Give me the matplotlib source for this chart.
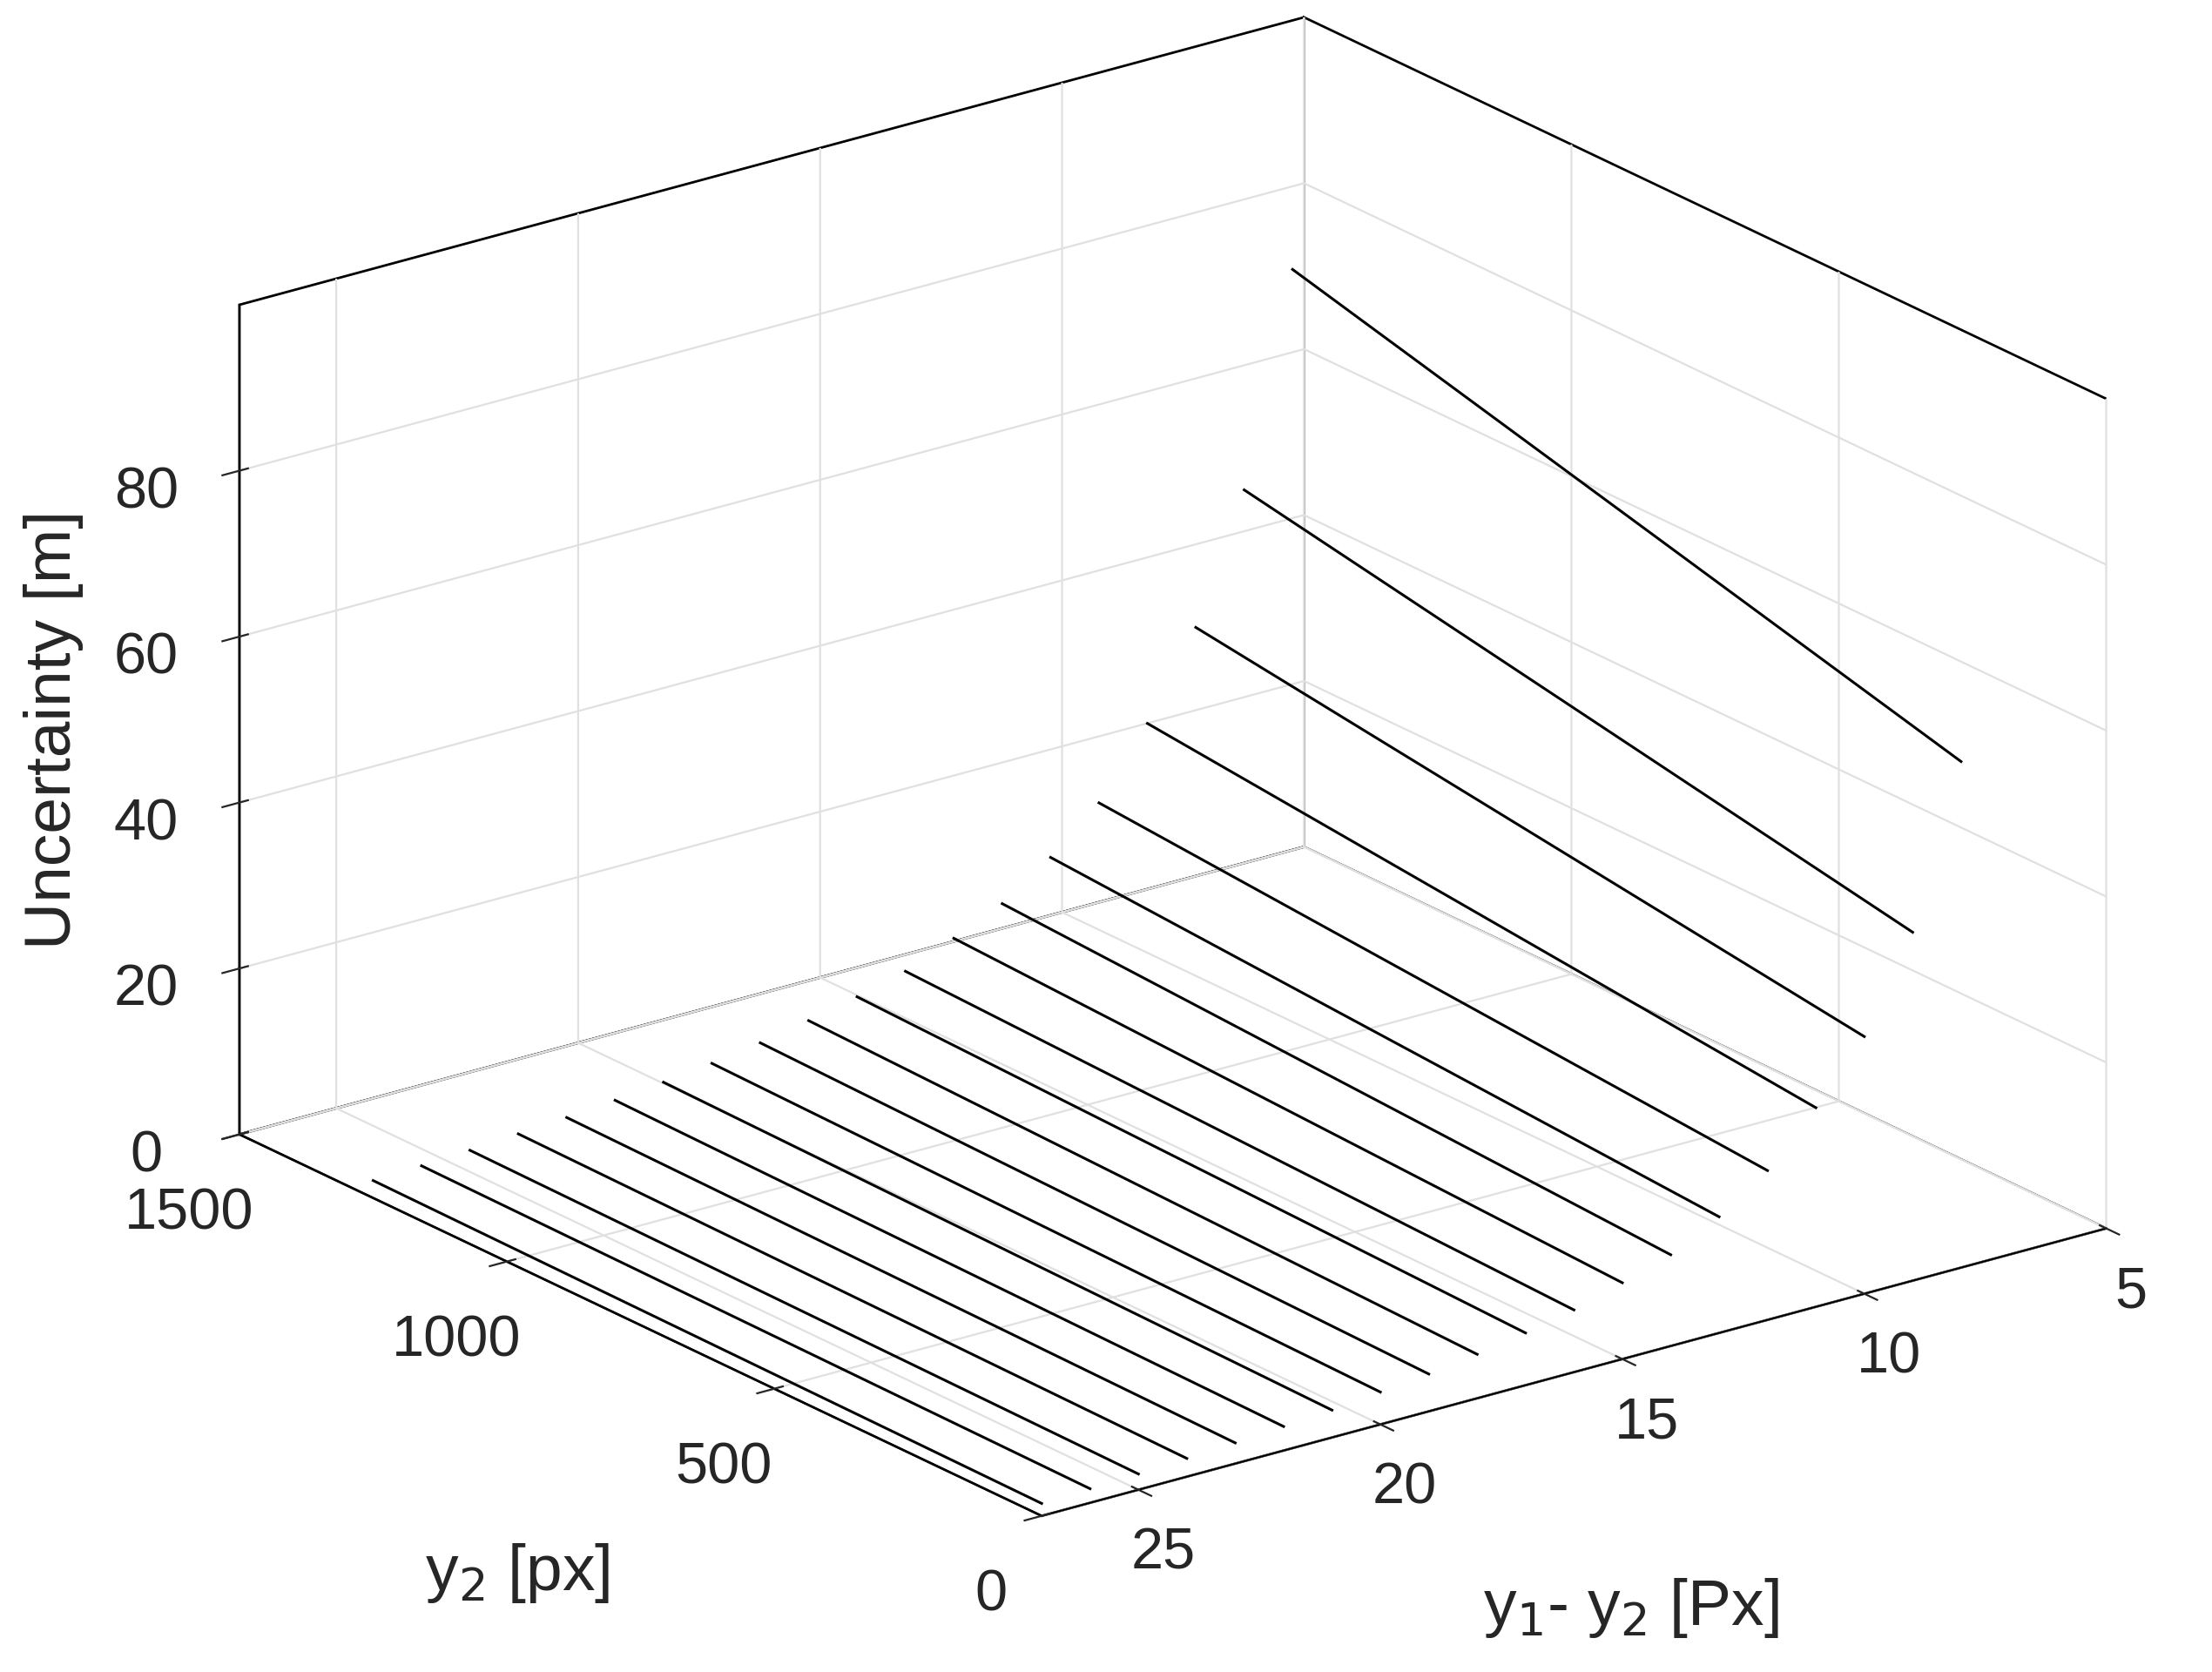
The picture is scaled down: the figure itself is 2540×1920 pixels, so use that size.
import matplotlib
matplotlib.use("Agg")
import matplotlib.pyplot as plt
import numpy as np

plt.rcParams['font.family'] = ['Liberation Sans', 'DejaVu Sans']

disparity = [8, 9, 10, 11, 12, 13, 14, 15, 16, 17, 18, 19, 20, 21, 22, 23, 24, 25, 26, 27]
z_far = [82, 57, 42, 32, 24, 19, 15, 12.4, 10, 8.5, 7.2, 6.1, 5.2, 4.5, 3.9, 3.4, 3.0, 2.6, 2.3, 2.1]
z_near = [61, 42, 31, 24, 18, 14, 11, 9.2, 7.5, 6.3, 5.3, 4.5, 3.9, 3.3, 2.9, 2.5, 2.2, 1.9, 1.7, 1.5]
y2_range = [0, 1250]

W, H = 1560, 1180  # reference preview coordinates
fig = plt.figure(figsize=(12.7, 9.6), dpi=200)
ax = fig.add_axes([0.02, 0.028, 1.0, 1.0], projection='3d', proj_type='ortho')
for d, zf, zn in zip(disparity, z_far, z_near):
    ax.plot([d, d], y2_range, [zn, zf], color='black', lw=1.1)

ax.set_xlim(27, 5)
ax.set_ylim(0, 1500)
ax.set_zlim(0, 100)
ax.set_xticks([5, 10, 15, 20, 25])
ax.set_yticks([0, 500, 1000, 1500])
ax.set_zticks([0, 20, 40, 60, 80])
ax.set_box_aspect((1.5, 1.5, 1.0), zoom=1.21)
ax.view_init(elev=21, azim=-127)
for a in (ax.xaxis, ax.yaxis, ax.zaxis):
    a.set_pane_color((1, 1, 1, 1))
    a.pane.set_edgecolor('black')
    a._axinfo['grid']['color'] = (0.88, 0.88, 0.88, 1)
    a._axinfo['grid']['linewidth'] = 0.8
    a._axinfo['axisline']['color'] = 'black'
    a._axinfo['tick']['color'] = 'black'
ax.tick_params(labelsize=24, colors='#262626')
ax.tick_params(axis='x', pad=3)
ax.tick_params(axis='y', pad=9)
ax.tick_params(axis='z', pad=10)
fig.text(365 / W, 1 - 1110 / H, 'y$_2$ [px]', fontsize=27, color='#262626', ha='center', va='center')
fig.text(1150 / W, 1 - 1135 / H, 'y$_1$- y$_2$ [Px]', fontsize=27, color='#262626', ha='center', va='center')
fig.text(38 / W, 1 - 515 / H, 'Uncertainty [m]', fontsize=27, color='#262626', ha='center', va='center', rotation=90)
fig.savefig('out.png', dpi=200)
